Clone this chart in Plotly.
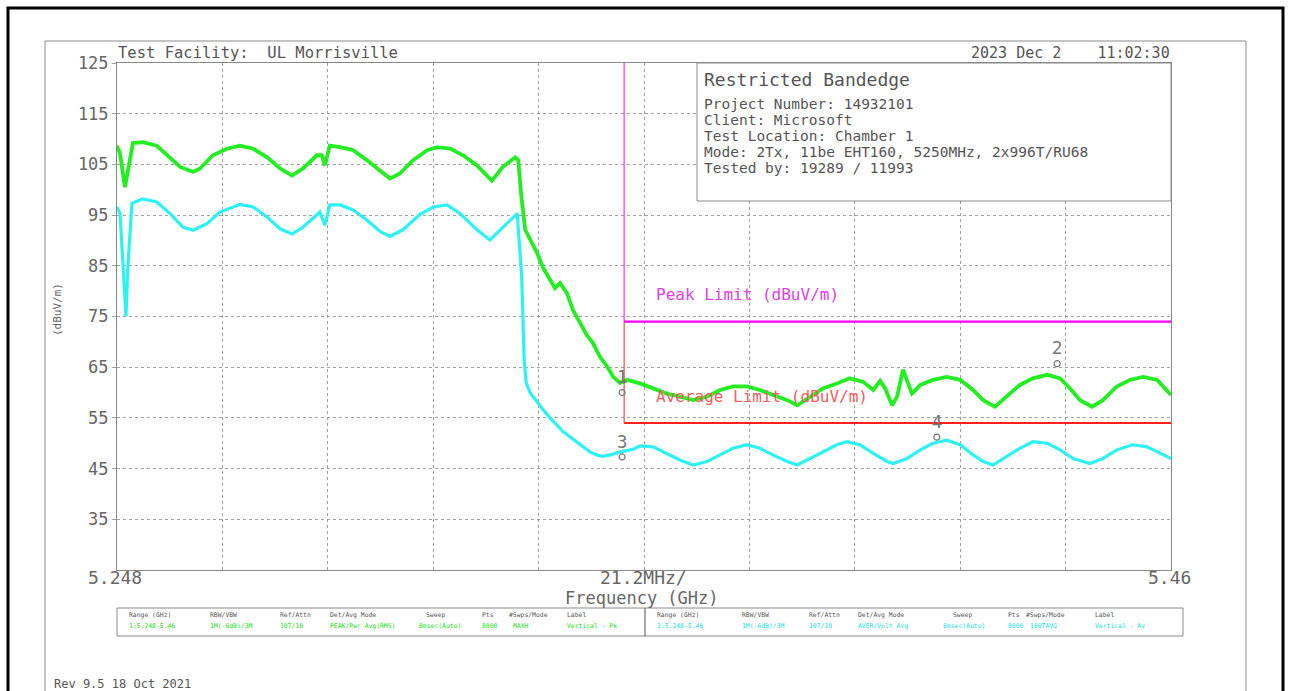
import plotly.graph_objects as go

# ---------------- data ----------------
peak_freq = [5.2480, 5.2486, 5.2496, 5.2506, 5.2512, 5.2532, 5.2560, 5.2581, 5.2607, 5.2633,
             5.2647, 5.2673, 5.2701, 5.2727, 5.2754, 5.2782, 5.2808, 5.2832, 5.2854, 5.2882,
             5.2892, 5.2898, 5.2908, 5.2929, 5.2955, 5.2983, 5.3009, 5.3029, 5.3049, 5.3075,
             5.3104, 5.3124, 5.3150, 5.3176, 5.3204, 5.3234, 5.3256, 5.3281, 5.3287, 5.3293,
             5.3301, 5.3311, 5.3325, 5.3337, 5.3351, 5.3361, 5.3371, 5.3385, 5.3397, 5.3411,
             5.3425, 5.3437, 5.3451, 5.3466, 5.3478, 5.3492, 5.3506, 5.3532, 5.3558, 5.3586,
             5.3612, 5.3639, 5.3667, 5.3693, 5.3719, 5.3747, 5.3773, 5.3799, 5.3828, 5.3848,
             5.3874, 5.3900, 5.3928, 5.3954, 5.3981, 5.4001, 5.4015, 5.4025, 5.4039, 5.4049,
             5.4061, 5.4069, 5.4079, 5.4096, 5.4121, 5.4149, 5.4176, 5.4202, 5.4222, 5.4246,
             5.4270, 5.4296, 5.4322, 5.4351, 5.4377, 5.4397, 5.4417, 5.4441, 5.4463, 5.4491,
             5.4518, 5.4544, 5.4572, 5.4600]
peak_level = [108.7, 107.1, 100.5, 106.4, 109.2, 109.4, 108.7, 106.8, 104.5, 103.5,
              104.2, 106.8, 108.1, 108.7, 108.1, 106.4, 104.2, 102.8, 104.2, 106.8,
              106.8, 104.8, 108.7, 108.4, 107.8, 105.8, 103.8, 102.2, 103.2, 105.8,
              107.8, 108.4, 108.1, 106.8, 104.8, 101.8, 104.5, 106.4, 105.8, 99.0,
              92.1, 90.1, 87.5, 84.6, 82.2, 80.6, 81.6, 79.6, 76.3, 73.7,
              71.3, 69.8, 67.1, 65.1, 63.1, 61.9, 62.5, 61.8, 60.8, 59.8,
              59.2, 58.5, 59.2, 60.5, 61.2, 61.2, 60.5, 59.5, 58.5, 57.5,
              59.2, 60.8, 61.8, 62.8, 62.1, 60.5, 62.3, 60.8, 57.5, 59.2,
              64.5, 62.5, 59.8, 61.5, 62.5, 63.1, 62.5, 60.5, 58.5, 57.2,
              59.2, 61.5, 62.8, 63.5, 62.8, 60.8, 58.5, 57.2, 58.5, 61.2,
              62.5, 63.1, 62.5, 59.5]

avg_freq = [5.2480, 5.2486, 5.2492, 5.2498, 5.2502, 5.2510, 5.2532, 5.2560, 5.2587, 5.2613,
            5.2633, 5.2661, 5.2687, 5.2727, 5.2754, 5.2782, 5.2808, 5.2832, 5.2854, 5.2888,
            5.2898, 5.2908, 5.2929, 5.2955, 5.2983, 5.3009, 5.3029, 5.3055, 5.3089, 5.3116,
            5.3144, 5.3170, 5.3204, 5.3230, 5.3256, 5.3285, 5.3294, 5.3299, 5.3303, 5.3311,
            5.3325, 5.3337, 5.3351, 5.3365, 5.3377, 5.3391, 5.3405, 5.3417, 5.3431, 5.3445,
            5.3457, 5.3472, 5.3492, 5.3518, 5.3532, 5.3558, 5.3586, 5.3612, 5.3639, 5.3667,
            5.3693, 5.3719, 5.3747, 5.3773, 5.3799, 5.3828, 5.3848, 5.3874, 5.3900, 5.3928,
            5.3948, 5.3974, 5.4001, 5.4029, 5.4041, 5.4069, 5.4096, 5.4121, 5.4149, 5.4176,
            5.4202, 5.4222, 5.4242, 5.4270, 5.4296, 5.4322, 5.4351, 5.4377, 5.4403, 5.4437,
            5.4463, 5.4491, 5.4523, 5.4552, 5.4578, 5.4600]
avg_level = [96.6, 95.3, 85.4, 75.0, 85.0, 97.3, 98.2, 97.6, 95.3, 92.6,
             92.0, 93.3, 95.6, 97.1, 96.6, 94.6, 92.3, 91.3, 92.6, 95.6,
             93.0, 97.0, 97.0, 96.0, 94.0, 91.8, 90.8, 92.1, 95.1, 96.6,
             97.0, 95.3, 92.1, 90.1, 92.6, 95.3, 83.0, 66.4, 61.9, 59.9,
             58.2, 56.6, 55.0, 53.6, 52.3, 51.3, 50.3, 49.3, 48.3, 47.7,
             47.4, 47.7, 48.3, 48.8, 49.5, 49.3, 48.0, 46.7, 45.7, 46.4,
             47.7, 49.0, 49.7, 49.0, 47.7, 46.4, 45.7, 47.0, 48.3, 49.7,
             50.3, 49.7, 48.0, 46.4, 46.0, 47.0, 48.7, 50.0, 50.6, 49.7,
             47.7, 46.4, 45.7, 47.4, 49.0, 50.3, 50.0, 48.7, 47.0, 46.0,
             47.0, 48.7, 49.7, 49.3, 48.0, 47.0]

band_edge = 5.35
stop_freq = 5.46
top_level = 125
peak_limit = 74
avg_limit = 54

marker_ids = ["1", "2", "3", "4"]
marker_freq = [5.3496, 5.4371, 5.3496, 5.4129]
marker_level = [60.0, 65.7, 47.3, 51.2]

y_ticks = [35, 45, 55, 65, 75, 85, 95, 105, 115, 125]

info_title = "Restricted Bandedge"
info_lines = ["Project Number: 14932101", "Client: Microsoft", "Test Location: Chamber 1",
              "Mode: 2Tx, 11be EHT160, 5250MHz, 2x996T/RU68", "Tested by: 19289 / 11993"]

table_headers = ["Range (GHz)", "RBW/VBW", "Ref/Attn", "Det/Avg Mode", "Sweep", "Pts", "#Swps/Mode", "Label"]
table_row1 = ["1:5.248-5.46", "1M(-6dB)/3M", "107/10", "PEAK/Pwr Avg(RMS)", "8msec(Auto)", "8000", "MAXH", "Vertical - Pk"]
table_row2 = ["2:5.248-5.46", "1M(-6dB)/3M", "107/10", "AVER/Volt Avg", "8msec(Auto)", "8000", "100TAVG", "Vertical - Av"]

# ---------------- layout helpers ----------------
W, H = 1290, 691
L, R, T, B = 117, 1171, 63, 570
FONT = "DejaVu Sans Mono"
TXT = "#555555"


def px(x):
    return (x - L) / (R - L)


def py(y):
    return (B - y) / (B - T)


fig = go.Figure()

fig.add_trace(go.Scatter(x=avg_freq, y=avg_level, mode="lines",
                         line=dict(color="#2ef2f2", width=3.2), hoverinfo="skip"))
fig.add_trace(go.Scatter(x=peak_freq, y=peak_level, mode="lines",
                         line=dict(color="#22ee22", width=3.8), hoverinfo="skip"))

# limit lines
fig.add_trace(go.Scatter(x=[band_edge, band_edge], y=[top_level, peak_limit], mode="lines",
                         line=dict(color="#ff00ff", width=1), hoverinfo="skip"))
fig.add_trace(go.Scatter(x=[band_edge, stop_freq], y=[peak_limit, peak_limit], mode="lines",
                         line=dict(color="#ff00ff", width=2.2), hoverinfo="skip", cliponaxis=False))
fig.add_trace(go.Scatter(x=[band_edge, band_edge], y=[peak_limit, avg_limit], mode="lines",
                         line=dict(color="#ff2020", width=1), hoverinfo="skip"))
fig.add_trace(go.Scatter(x=[band_edge, stop_freq], y=[avg_limit, avg_limit], mode="lines",
                         line=dict(color="#ff2020", width=2), hoverinfo="skip", cliponaxis=False))

# markers
fig.add_trace(go.Scatter(x=marker_freq, y=marker_level, mode="markers+text",
                         text=marker_ids, textposition="top center",
                         textfont=dict(family=FONT, size=18, color="#777777"),
                         marker=dict(symbol="circle-open", size=6, color="#777777", line=dict(width=1.2)),
                         hoverinfo="skip", cliponaxis=False))

fig.update_layout(
    width=W, height=H,
    margin=dict(l=L, r=W - R, t=T, b=H - B, pad=0),
    paper_bgcolor="white", plot_bgcolor="white",
    showlegend=False,
    font=dict(family=FONT, color=TXT),
)
fig.update_xaxes(range=[5.248, 5.46], tick0=5.248, dtick=0.0212, showticklabels=False,
                 showgrid=True, gridcolor="#a0a0a0", griddash="dot", gridwidth=1,
                 showline=True, linecolor="#888888", linewidth=1, mirror=True,
                 ticks="", zeroline=False)
fig.update_yaxes(range=[25, 125], tickvals=y_ticks, ticktext=[str(v) for v in y_ticks],
                 tickfont=dict(family=FONT, size=17, color="#666666"),
                 ticks="outside", ticklen=4, tickcolor="#a0a0a0",
                 showgrid=True, gridcolor="#a0a0a0", griddash="dot", gridwidth=1,
                 showline=True, linecolor="#888888", linewidth=1, mirror=True,
                 zeroline=False)

shapes = []
# outer black frame
shapes.append(dict(type="rect", xref="paper", yref="paper", x0=px(8), x1=px(1283), y0=py(8), y1=py(720),
                   line=dict(color="black", width=3), fillcolor="rgba(0,0,0,0)", layer="below"))
# gray inner frame
shapes.append(dict(type="rect", xref="paper", yref="paper", x0=px(45), x1=px(1246), y0=py(41), y1=py(720),
                   line=dict(color="#8a8a8a", width=1), fillcolor="rgba(0,0,0,0)", layer="below"))
# info box
shapes.append(dict(type="rect", xref="paper", yref="paper", x0=px(697), x1=px(1171), y0=py(63), y1=py(201),
                   line=dict(color="#8a8a8a", width=1), fillcolor="white", layer="above"))
# settings table
shapes.append(dict(type="rect", xref="paper", yref="paper", x0=px(117), x1=px(1183), y0=py(608), y1=py(636),
                   line=dict(color="#8a8a8a", width=1), fillcolor="rgba(0,0,0,0)"))
shapes.append(dict(type="line", xref="paper", yref="paper", x0=px(645), x1=px(645), y0=py(608), y1=py(636),
                   line=dict(color="#555555", width=1)))
fig.update_layout(shapes=shapes)

ann = []


def text(x, y, s, size, color=TXT, xanchor="left", angle=0):
    ann.append(dict(x=px(x), y=py(y), xref="paper", yref="paper", text=s, showarrow=False,
                    xanchor=xanchor, yanchor="middle", textangle=angle,
                    font=dict(family=FONT, size=size, color=color)))


text(116, 53, "Test Facility:  UL Morrisville", 15.5)
text(1172, 53, "2023 Dec 2    11:02:30", 15, xanchor="right")
text(57, 310, "(dBuV/m)", 11, color="#666666", xanchor="center", angle=-90)
text(115, 577, "5.248", 18, color="#666666", xanchor="center")
text(643, 577, "21.2MHz/", 18, color="#666666", xanchor="center")
text(1169, 577, "5.46", 18, color="#666666", xanchor="center")
text(642, 598, "Frequency (GHz)", 17, color="#666666", xanchor="center")
text(702, 79, info_title, 18)
for i, s in enumerate(info_lines):
    text(702, 104 + 16 * i, s, 14.5)
text(654, 294, "Peak Limit (dBuV/m)", 16, color="#e040e0")
text(654, 396, "Average Limit (dBuV/m)", 16, color="#f06060")

left_cols = [127, 208, 278, 328, 424, 480, 507, 565]
left_vals = [127, 208, 278, 328, 417, 480, 511, 565]
right_cols = [655, 740, 807, 856, 951, 1006, 1024, 1093]
right_vals = [655, 740, 807, 856, 941, 1006, 1028, 1093]
for j in range(len(table_headers)):
    text(left_cols[j], 615, table_headers[j], 6.4, color="#555555")
    text(left_vals[j], 626, table_row1[j], 6.4, color="#22dd22")
    text(right_cols[j], 615, table_headers[j], 6.4, color="#555555")
    text(right_vals[j], 626, table_row2[j], 6.4, color="#22dddd")

text(52, 684, "Rev 9.5 18 Oct 2021", 12)

fig.update_layout(annotations=ann)

fig.write_html("out.html", config={"displayModeBar": False},
               post_script="document.body.style.margin='0';document.body.style.overflow='hidden';")
